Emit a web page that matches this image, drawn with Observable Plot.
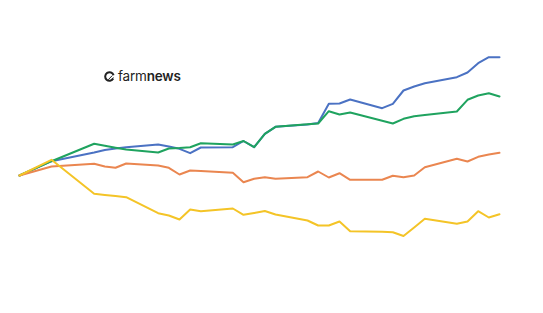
<!DOCTYPE html>
<html>
<head>
<meta charset="utf-8">
<script src="https://cdn.jsdelivr.net/npm/d3@7"></script>
<script src="https://cdn.jsdelivr.net/npm/@observablehq/plot@0.6"></script>
<style>
  html, body { margin: 0; padding: 0; background: #fff; }
  #wrap { position: relative; width: 543px; height: 313px; }
  #logo { position: absolute; left: 104px; top: 68px; display: flex; align-items: center;
          font-family: Inter, "Noto Sans", sans-serif; font-size: 13.5px; color: #222; letter-spacing: -0.2px; }
  #logo svg { margin-right: 3px; }
  .light { font-weight: 400; }
  .bold { font-weight: 600; }
</style>
</head>
<body>
<div id="wrap">
  <div id="logo">
    <svg width="11" height="11" viewBox="0 0 11 11">
      <path d="M9.3 7.6 A4.3 4.3 0 1 1 9.6 4.2" fill="none" stroke="#222" stroke-width="2"/>
      <path d="M4.2 8.8 L8.2 4.6 M6.2 9.6 L9.4 6.4" stroke="#222" stroke-width="1"/>
    </svg>
    <span class="light">farm</span><span class="bold">news</span>
  </div>
</div>
<script>
// trading-day index (weekdays, weekends skipped)
const days = [0, 3, 7, 8, 9, 10, 13, 14, 15, 16, 17, 20, 21, 22, 23, 24, 27, 28, 29, 30, 31, 34, 35, 36, 37, 38, 41, 42, 43, 44, 45];

// % change since start
const series1 = [0, 1.43, 2.3, 2.55, 2.7, 2.83, 3.1, 2.9, 2.67, 2.23, 2.8, 2.83, 3.45, 2.83, 4.17, 4.87, 5.1, 5.25, 7.17, 7.2, 7.6, 6.73, 7.17, 8.5, 8.9, 9.23, 9.83, 10.3, 11.23, 11.83, 11.83];
const series2 = [0, 1.43, 3.17, 2.98, 2.78, 2.6, 2.3, 2.7, 2.75, 2.83, 3.23, 3.1, 3.45, 2.83, 4.17, 4.87, 5.13, 5.2, 6.43, 6.1, 6.3, 5.47, 5.2, 5.67, 5.93, 6.04, 6.4, 7.57, 8.0, 8.23, 7.9];
const series3 = [0, 0.9, 1.17, 0.9, 0.77, 1.2, 1.0, 0.77, 0.1, 0.5, 0.45, 0.27, -0.67, -0.33, -0.17, -0.33, -0.17, 0.4, -0.2, 0.23, -0.43, -0.43, -0.03, -0.17, 0.0, 0.83, 1.67, 1.4, 1.87, 2.1, 2.27];
const series4 = [0, 1.57, -1.83, -1.95, -2.05, -2.17, -3.77, -4.0, -4.4, -3.4, -3.57, -3.3, -3.93, -3.75, -3.55, -3.9, -4.5, -5.0, -5.0, -4.6, -5.57, -5.63, -5.67, -6.05, -5.2, -4.33, -4.83, -4.6, -3.57, -4.2, -3.87];

const seriesNames = ["S1", "S2", "S3", "S4"];
const seriesValues = [series1, series2, series3, series4];
const colors = ["#4b72c3", "#1fa35f", "#ea8650", "#f4c427"];

const rows = [];
seriesNames.forEach((s, i) => days.forEach((d, j) => rows.push({series: s, day: d, value: seriesValues[i][j]})));

const chart = Plot.plot({
  width: 543,
  height: 313,
  marginLeft: 19,
  marginRight: 44,
  marginTop: 0,
  marginBottom: 0,
  x: {domain: [0, 45], axis: null},
  y: {domain: [-13.8, 17.5], axis: null},
  color: {type: "ordinal", domain: seriesNames, range: colors},
  marks: [
    Plot.line(rows, {x: "day", y: "value", z: "series", stroke: "series", strokeWidth: 2, strokeLinejoin: "round", strokeLinecap: "round"})
  ]
});
document.getElementById("wrap").prepend(chart);
chart.style.position = "absolute";
chart.style.left = "0";
chart.style.top = "0";
</script>
</body>
</html>
